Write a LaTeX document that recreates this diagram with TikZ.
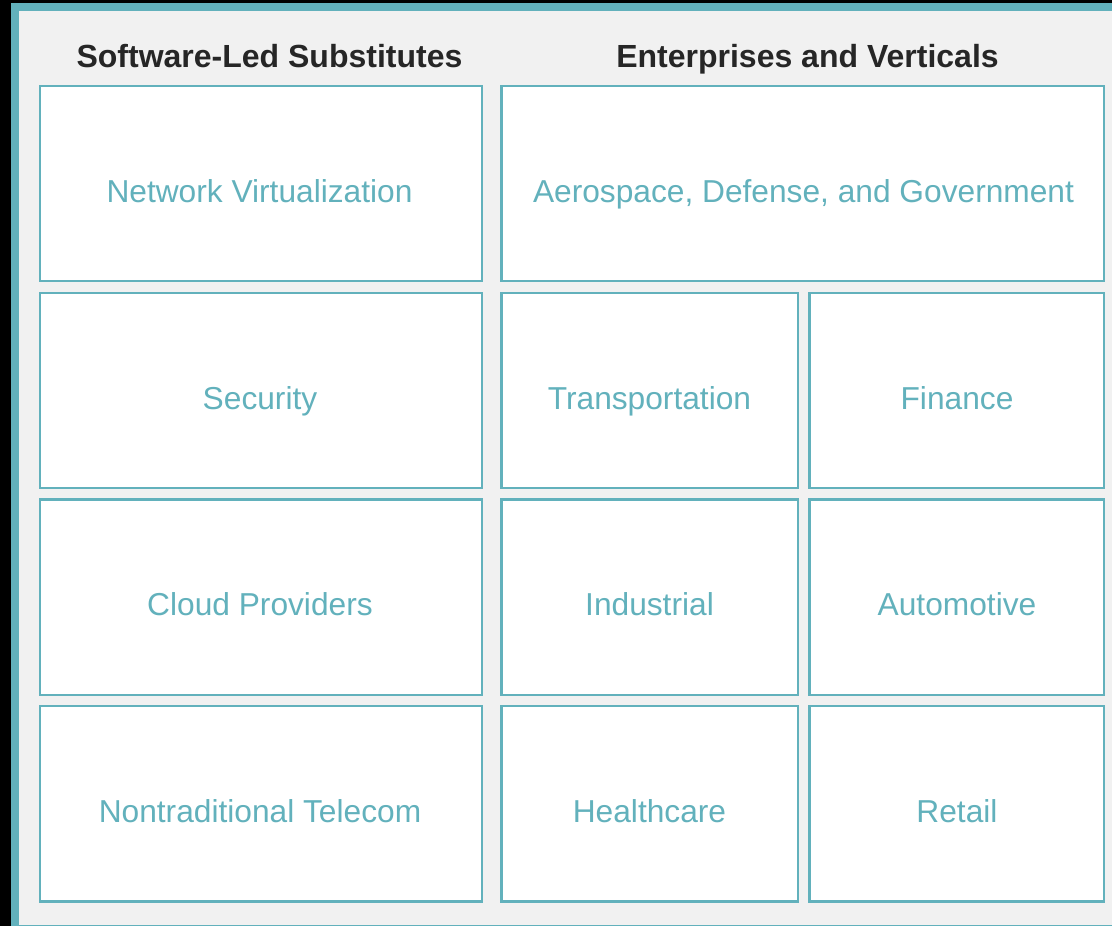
\documentclass[tikz,border=0pt]{standalone}
\usepackage{fontspec}
\setmainfont{Liberation Sans}
\definecolor{teal1}{HTML}{62B1BC}
\definecolor{bgg}{HTML}{F1F1F1}
\definecolor{ttl}{HTML}{262626}
\tikzset{
  cell/.style={draw=teal1, line width=2.4pt, fill=white},
  lbl/.style={text=teal1, font=\fontsize{31.7}{36}\selectfont, anchor=base, inner sep=0pt},
  ttlstyle/.style={text=ttl, font=\fontsize{32}{36}\selectfont\bfseries, anchor=base, inner sep=0pt}
}
\begin{document}
\begin{tikzpicture}[x=1pt,y=-1pt]
\useasboundingbox (0,0) rectangle (1112,926);
\fill[black] (0,0) rectangle (1112,926);
\fill[teal1] (11,3) rectangle (1112,926);
\fill[bgg] (19,11) rectangle (1112,924.5);
% boxes
\def\ra{86}\def\rb{281.25}
\def\rc{292.75}\def\rd{488}
\def\re{499.5}\def\rf{694.75}
\def\rg{706.25}\def\rh{901.5}
\draw[cell] (40,\ra) rectangle (482,\rb) node[pos=.5] (c11) {};
\draw[cell] (40,\rc) rectangle (482,\rd) node[pos=.5] (c21) {};
\draw[cell] (40,\re) rectangle (482,\rf) node[pos=.5] (c31) {};
\draw[cell] (40,\rg) rectangle (482,\rh) node[pos=.5] (c41) {};
\draw[cell] (501.5,\ra) rectangle (1104,\rb) node[pos=.5] (c12) {};
\draw[cell] (501.5,\rc) rectangle (798,\rd) node[pos=.5] (c22) {};
\draw[cell] (501.5,\re) rectangle (798,\rf) node[pos=.5] (c32) {};
\draw[cell] (501.5,\rg) rectangle (798,\rh) node[pos=.5] (c42) {};
\draw[cell] (809.5,\rc) rectangle (1104,\rd) node[pos=.5] (c23) {};
\draw[cell] (809.5,\re) rectangle (1104,\rf) node[pos=.5] (c33) {};
\draw[cell] (809.5,\rg) rectangle (1104,\rh) node[pos=.5] (c43) {};
% titles
\node[ttlstyle] (t1) at (269.5,67) {Software-Led Substitutes};
\node[ttlstyle] (t2) at (807.5,67) {Enterprises and Verticals};
% labels
\node[lbl] (l11) at (259.5,202) {Network Virtualization};
\node[lbl] (l21) at (260,409) {Security};
\node[lbl] (l31) at (260,615.5) {Cloud Providers};
\node[lbl] (l41) at (260,822) {Nontraditional Telecom};
\node[lbl] (l12) at (803.5,202) {Aerospace, Defense, and Government};
\node[lbl] (l22) at (649.5,409) {Transportation};
\node[lbl] (l32) at (649.5,615.5) {Industrial};
\node[lbl] (l42) at (649.5,822) {Healthcare};
\node[lbl] (l23) at (957,409) {Finance};
\node[lbl] (l33) at (957,615.5) {Automotive};
\node[lbl] (l43) at (957,822) {Retail};
\end{tikzpicture}
\end{document}
